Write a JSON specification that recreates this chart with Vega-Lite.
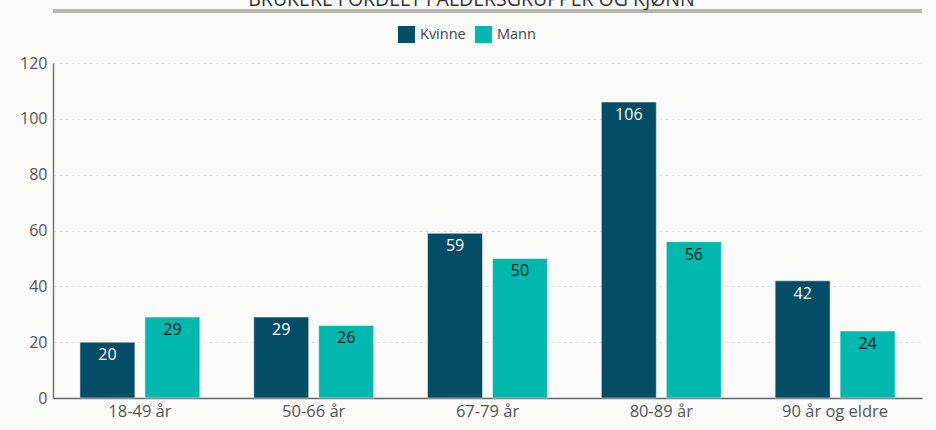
{
  "$schema": "https://vega.github.io/schema/vega-lite/v6.json",
  "width": 869,
  "height": 335,
  "autosize": {"type": "none"},
  "padding": {"left": 53, "top": 63, "right": 14, "bottom": 32},
  "background": "#fafaf9",
  "title": {
    "text": "BRUKERE FORDELT I ALDERSGRUPPER OG KJØNN",
    "anchor": "middle",
    "fontSize": 19.5,
    "font": "Open Sans",
    "fontWeight": "normal",
    "color": "#333333",
    "baseline": "alphabetic",
    "dx": -16,
    "dy": 16,
    "offset": 0,
    "frame": "group"
  },
  "data": {
    "values": [
      {"gruppe": "18-49 år", "kjonn": "Kvinne", "antall": 20},
      {"gruppe": "18-49 år", "kjonn": "Mann", "antall": 29},
      {"gruppe": "50-66 år", "kjonn": "Kvinne", "antall": 29},
      {"gruppe": "50-66 år", "kjonn": "Mann", "antall": 26},
      {"gruppe": "67-79 år", "kjonn": "Kvinne", "antall": 59},
      {"gruppe": "67-79 år", "kjonn": "Mann", "antall": 50},
      {"gruppe": "80-89 år", "kjonn": "Kvinne", "antall": 106},
      {"gruppe": "80-89 år", "kjonn": "Mann", "antall": 56},
      {"gruppe": "90 år og eldre", "kjonn": "Kvinne", "antall": 42},
      {"gruppe": "90 år og eldre", "kjonn": "Mann", "antall": 24}
    ]
  },
  "layer": [
    {
      "mark": {"type": "bar", "stroke": "#ffffff", "strokeWidth": 0.5},
      "encoding": {
        "x": {
          "field": "gruppe",
          "type": "nominal",
          "sort": null,
          "scale": {"paddingInner": 0.31, "paddingOuter": 0.155},
          "axis": {
            "title": null,
            "labelAngle": 0,
            "labelFont": "Open Sans",
            "labelFontSize": 16.5,
            "labelColor": "#555555",
            "labelPadding": 5,
            "ticks": false,
            "domainColor": "#666666",
            "domainWidth": 1.5,
            "grid": false
          }
        },
        "xOffset": {
          "field": "kjonn",
          "type": "nominal",
          "scale": {"paddingInner": 0.154, "paddingOuter": 0}
        },
        "y": {
          "field": "antall",
          "type": "quantitative",
          "scale": {"domain": [0, 120], "nice": false},
          "axis": {
            "title": null,
            "values": [0, 20, 40, 60, 80, 100, 120],
            "labelFont": "Open Sans",
            "labelFontSize": 16,
            "labelColor": "#555555",
            "labelPadding": 6,
            "ticks": false,
            "domainColor": "#777777",
            "domainWidth": 1.5,
            "gridColor": "#e3e3e3",
            "gridDash": [3, 3],
            "gridWidth": 1
          }
        },
        "color": {
          "field": "kjonn",
          "type": "nominal",
          "scale": {"domain": ["Kvinne", "Mann"], "range": ["#034e66", "#01b8af"]},
          "legend": {
            "title": null,
            "orient": "none",
            "direction": "horizontal",
            "legendX": 345,
            "legendY": -37,
            "symbolType": "square",
            "symbolSize": 289,
            "symbolStrokeWidth": 0,
            "labelFont": "Open Sans",
            "labelFontSize": 14.5,
            "labelColor": "#444444",
            "labelOffset": 5,
            "columnPadding": 9
          }
        }
      }
    },
    {
      "mark": {"type": "text", "baseline": "middle", "dy": 13, "font": "Open Sans", "fontSize": 16},
      "encoding": {
        "x": {"field": "gruppe", "type": "nominal", "sort": null},
        "xOffset": {"field": "kjonn", "type": "nominal"},
        "y": {"field": "antall", "type": "quantitative"},
        "text": {"field": "antall", "type": "quantitative"},
        "fill": {
          "field": "kjonn",
          "type": "nominal",
          "scale": {"domain": ["Kvinne", "Mann"], "range": ["#ffffff", "#111111"]},
          "legend": null
        }
      }
    },
    {
      "mark": {"type": "rule", "color": "#b4b6ac", "strokeWidth": 3},
      "encoding": {"y": {"datum": 138.6, "type": "quantitative"}}
    }
  ],
  "resolve": {"scale": {"color": "independent"}},
  "config": {"view": {"stroke": null}}
}
